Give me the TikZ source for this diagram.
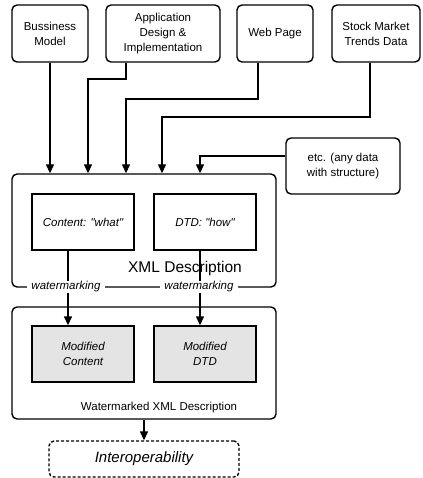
\documentclass[tikz,border=0pt]{standalone}
\usepackage{fontspec}
\setmainfont{Liberation Sans}[Ligatures=TeXOff]
\usetikzlibrary{arrows.meta}
\definecolor{boxgray}{HTML}{E4E4E4}
\tikzset{
  base/.style={draw, line width=1.4pt, inner sep=0pt, align=center,
    font=\fontsize{11.5}{15}\selectfont},
  rbox/.style={base, rounded corners=5pt},
  sbox/.style={base, font=\fontsize{11.5}{15}\selectfont\itshape},
  gbox/.style={sbox, fill=boxgray},
  arr/.style={line width=1.4pt, -{Triangle[length=9pt,width=8pt]}},
  wm/.style={fill=white, inner xsep=4pt, inner ysep=1pt, font=\fontsize{11.5}{14}\selectfont\itshape}
}
\begin{document}
\begin{tikzpicture}[x=1pt,y=1pt,yscale=-1]
\useasboundingbox (0,0) rectangle (422,478);
% top sources
\node[rbox, minimum width=76, minimum height=57] (bm) at (50,33.5) {Bussiness\\Model};
\node[rbox, minimum width=114, minimum height=57] (app) at (163,33.5) {Application\\Design \&\\Implementation};
\node[rbox, minimum width=76, minimum height=57] (web) at (275,33.5) {Web Page};
\node[rbox, minimum width=88, minimum height=57] (stock) at (376,33.5) {Stock Market\\Trends Data};
\node[rbox, minimum width=114, minimum height=56] (etc) at (343,166) {etc. (any data\\with structure)};
% XML description
\node[rbox, minimum width=264, minimum height=113] (xml) at (144,230.5) {};
\node[font=\fontsize{15.5}{18}\selectfont] (xmllab) at (185,268) {XML Description};
\node[sbox, minimum width=102, minimum height=56] (content) at (83,222) {Content: "what"};
\node[sbox, minimum width=102, minimum height=56] (dtd) at (205,222) {DTD: "how"};
% watermarked
\node[rbox, minimum width=264, minimum height=112] (wxml) at (144,363) {};
\node[font=\fontsize{11.5}{14}\selectfont] (wxmllab) at (159,408) {Watermarked XML Description};
\node[gbox, minimum width=102, minimum height=56] (mc) at (83,354) {Modified\\Content};
\node[gbox, minimum width=102, minimum height=56] (md) at (205,354) {Modified\\DTD};
% interoperability
\node[rbox, dashed, dash pattern=on 3pt off 2pt, minimum width=190, minimum height=36,
  font=\fontsize{15}{18}\selectfont\itshape] (interop) at (144,459) {Interoperability};
% helper coordinates
\coordinate (c88) at (88,0);
\coordinate (c126) at (126,0);
\coordinate (c162) at (162,0);
\coordinate (c200) at (200,0);
\coordinate (c258) at (258,0);
\coordinate (c370) at (370,0);
\coordinate (c68) at (68,0);
\coordinate (r79) at (0,79);
\coordinate (r99) at (0,99);
\coordinate (r117) at (0,117);
\coordinate (r156) at (0,156);
% arrows into XML
\draw[arr] (bm.south) -- (xml.north -| bm.south);
\draw[arr] (app.south -| c126) -- (c126 |- r79) -- (c88 |- r79) -- (xml.north -| c88);
\draw[arr] (web.south -| c258) -- (c258 |- r99) -- (c126 |- r99) -- (xml.north -| c126);
\draw[arr] (stock.south -| c370) -- (c370 |- r117) -- (c162 |- r117) -- (xml.north -| c162);
\draw[arr] (etc.west |- r156) -- (c200 |- r156) -- (xml.north -| c200);
% watermarking
\draw[arr] (content.south -| c68) -- (mc.north -| c68);
\draw[arr] (dtd.south -| c200) -- (md.north -| c200);
\node[wm] (wm1) at (66,287) {watermarking};
\node[wm] (wm2) at (199,287) {watermarking};
% to interoperability
\draw[arr] (wxml.south -| interop.north) -- (interop.north);
\end{tikzpicture}
\end{document}
